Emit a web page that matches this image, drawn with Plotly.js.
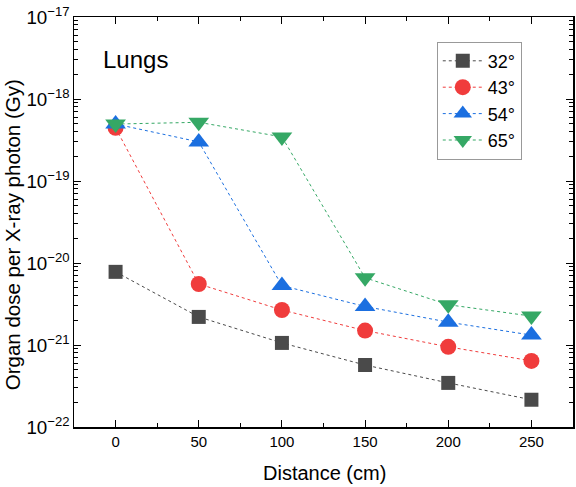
<!DOCTYPE html>
<html><head><meta charset="utf-8">
<script src="https://cdn.plot.ly/plotly-3.0.1.min.js"></script>
<style>html,body{margin:0;padding:0;background:#fff}#chart{width:576px;height:487px}</style>
</head><body><div id="chart"></div>
<script>
const distance = [0, 50, 100, 150, 200, 250];
const seriesNames = ['32°', '43°', '54°', '65°'];
const dose32 = [7.8e-21, 2.2e-21, 1.06e-21, 5.7e-22, 3.45e-22, 2.15e-22];
const dose43 = [4.45e-19, 5.55e-21, 2.67e-21, 1.5e-21, 9.5e-22, 6.4e-22];
const dose54 = [4.95e-19, 3.0e-19, 5.3e-21, 2.95e-21, 1.9e-21, 1.32e-21];
const dose65 = [4.95e-19, 5.2e-19, 3.45e-19, 6.6e-21, 3.1e-21, 2.25e-21];
const xTicks = [0, 50, 100, 150, 200, 250];
const xMinorTicks = [25, 75, 125, 175, 225];

const colors = ['#4a4a4a', '#f03c3c', '#1b6fe0', '#35a865'];
const symbols = ['square', 'circle', 'triangle-up', 'triangle-down'];
const sizes = [14, 16, 18, 18];
const all = [dose32, dose43, dose54, dose65];

const traces = all.map((y, i) => ({
  x: distance, y: y, name: seriesNames[i], type: 'scatter', mode: 'lines+markers',
  line: {color: colors[i], width: 1, dash: 'dot'},
  marker: {symbol: symbols[i], size: sizes[i], color: colors[i], line: {width: 0}}
}));

const FAM = 'Liberation Sans, Arial, sans-serif';
const axisFont = {family: FAM, size: 15, color: '#000'};
const layout = {
  width: 576, height: 487,
  margin: {l: 74, r: 3, t: 17, b: 60},
  paper_bgcolor: '#fff', plot_bgcolor: '#fff',
  font: axisFont,
  showlegend: true,
  legend: {x: 0.727, y: 0.94, xanchor: 'left', yanchor: 'top', bordercolor: '#999', borderwidth: 1,
    bgcolor: '#fff', font: {family: FAM, size: 18, color: '#000'},
    itemwidth: 40, tracegroupgap: 0},
  xaxis: {
    range: [-25, 275], tickvals: xTicks, ticks: 'inside', ticklen: 7, tickwidth: 1,
    tickcolor: '#000', showline: true, linecolor: '#000', linewidth: 1.5, mirror: 'allticks',
    showgrid: false, zeroline: false, tickfont: axisFont,
    minor: {tickvals: xMinorTicks, ticks: 'inside', ticklen: 4, tickcolor: '#000', showgrid: false}
  },
  yaxis: {
    type: 'log', range: [-22, -17], dtick: 1, exponentformat: 'power', ticks: 'inside', ticklen: 7, tickwidth: 1,
    tickcolor: '#000', showline: true, linecolor: '#000', linewidth: 1.5, mirror: 'allticks',
    showgrid: false, zeroline: false, tickfont: axisFont,
    minor: {dtick: 'D1', ticks: 'inside', ticklen: 4, tickcolor: '#000', showgrid: false}
  },
  annotations: [
    {text: 'Lungs', xref: 'paper', yref: 'paper', x: 0.054, y: 0.897, xanchor: 'left', yanchor: 'middle',
      showarrow: false, font: {family: FAM, size: 24, color: '#000'}},
    {text: 'Distance (cm)', xref: 'paper', yref: 'paper', x: 0.503, y: -0.112, xanchor: 'center', yanchor: 'middle',
      showarrow: false, font: {family: FAM, size: 20, color: '#000'}},
    {text: 'Organ dose per X-ray photon (Gy)', xref: 'paper', yref: 'paper', x: -0.124, y: 0.468, xanchor: 'center', yanchor: 'middle',
      textangle: -90, showarrow: false, font: {family: FAM, size: 20.5, color: '#000'}}
  ]
};
Plotly.newPlot('chart', traces, layout, {displayModeBar: false, staticPlot: true});
</script></body></html>
